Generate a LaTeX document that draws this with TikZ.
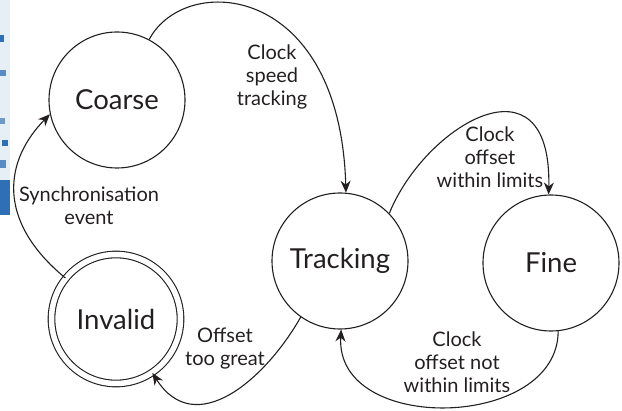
\documentclass[tikz,border=0pt]{standalone}
\usepackage{fontspec}
\setmainfont{Lato}
\usetikzlibrary{arrows.meta}
\definecolor{ink}{HTML}{231F20}
\definecolor{photoblue}{HTML}{2F6FB5}
\tikzset{
  state/.style={circle,draw=ink,line width=1.1pt,minimum size=136pt,inner sep=0pt,font=\fontsize{27.5}{30}\selectfont,text=ink},
  accstate/.style={circle,draw=ink,line width=1.1pt,double,double distance=5.5pt,minimum size=129pt,inner sep=0pt,font=\fontsize{27.5}{30}\selectfont,text=ink},
  trans/.style={draw=ink,line width=1.1pt,-{Stealth[length=12pt,width=10pt]}},
  lbl/.style={align=center,font=\fontsize{20}{23}\selectfont,text=ink,inner sep=0pt}
}
\begin{document}
\begin{tikzpicture}[x=1pt,y=-1pt]
\useasboundingbox (0,0) rectangle (622,411);
% cropped photograph at the left edge
\fill[photoblue!12] (0,0) rectangle (10,215);
\fill[photoblue] (0,35) rectangle (4,42);
\fill[photoblue!80] (0,70) rectangle (6,76);
\fill[photoblue!70] (0,118) rectangle (5,124);
\fill[photoblue] (2,140) rectangle (8,146);
\fill[photoblue!80] (0,160) rectangle (6,168);
\fill[photoblue] (0,180) rectangle (10,215);
% states
\node[state] (coarse) at (117,100) {Coarse};
\node[accstate] (invalid) at (116,319) {Invalid};
\node[state] (tracking) at (340,261) {Tracking};
\node[state] (fine) at (551,263) {Fine};
% transitions
\draw[trans] (coarse.62) .. controls (185,-28) and (340,-18) .. (tracking.85);
\draw[trans] (tracking.44) .. controls (425,125) and (552,50) .. (fine.92);
\draw[trans] (fine.276) .. controls (558,430) and (335,435) .. (tracking.271);
\draw[trans] (tracking.235) .. controls (265,380) and (195,440) .. (invalid.304);
\draw[trans] (invalid.141) .. controls (-5,220) and (5,160) .. (coarse.192);
% labels
\node[lbl] (l1) at (272,77) {Clock\\speed\\tracking};
\node[lbl] (l2) at (490,157) {Clock\\offset\\within limits};
\node[lbl] (l3) at (457,362) {Clock\\offset not\\within limits};
\node[lbl] (l4) at (225,349) {Offset\\too great};
\node[lbl] (l5) at (89,206) {Synchronisation\\event};
\end{tikzpicture}
\end{document}
